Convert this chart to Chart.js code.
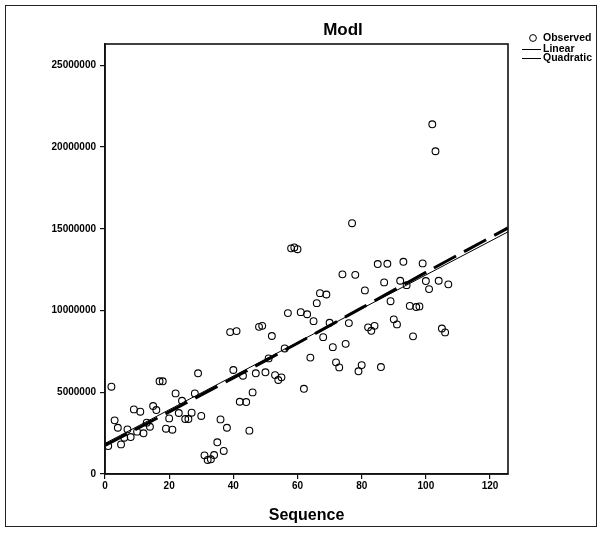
<!DOCTYPE html>
<html>
<head>
<meta charset="utf-8">
<script src="https://cdn.jsdelivr.net/npm/chart.js@4/dist/chart.umd.min.js"></script>
<style>
  html, body { margin: 0; padding: 0; background: #fff; }
  #wrap { position: relative; width: 602px; height: 533px; }
</style>
</head>
<body>
<div id="wrap"><canvas id="modlChart" width="602" height="533"></canvas></div>
<script>
// ---- datos ----
const chartTitle = 'Modl';
const xTitle = 'Sequence';
const legendNames = ['Observed', 'Linear', 'Quadratic'];

// valores observados, secuencia 1..107
const observed = [
  1710000, 5340000, 3280000, 2830000, 1810000, 2220000, 2730000, 2260000, 3950000, 2590000,
  3810000, 2490000, 3140000, 2890000, 4160000, 3910000, 5670000, 5670000, 2770000, 3400000,
  2710000, 4930000, 3730000, 4480000, 3360000, 3360000, 3750000, 4930000, 6160000, 3550000,
  1140000, 860000, 900000, 1160000, 1940000, 3340000, 1410000, 2830000, 8680000, 6360000,
  8740000, 4420000, 6010000, 4400000, 2650000, 4990000, 6160000, 9000000, 9060000, 6220000,
  7070000, 8440000, 6050000, 5750000, 5910000, 7680000, 9840000, 13800000, 13860000, 13750000,
  9900000, 5210000, 9770000, 7120000, 9350000, 10450000, 11060000, 8370000, 10980000, 9250000,
  7760000, 6830000, 6520000, 12210000, 7960000, 9230000, 15340000, 12180000, 6280000, 6660000,
  11230000, 8970000, 8760000, 9060000, 12840000, 6540000, 11720000, 12860000, 10570000, 9460000,
  9150000, 11820000, 12980000, 11550000, 10280000, 8420000, 10210000, 10250000, 12880000, 11800000,
  11310000, 21390000, 19740000, 11820000, 8900000, 8660000, 11600000
];

// recta ajustada (extremos leidos)
const linearX = [0, 125.6];
const linearY = [1870000, 14810000];

// curva cuadratica (puntos leidos)
const quadX = [0, 20, 40, 60, 80, 100, 125.6];
const quadY = [1750000, 3800000, 5880000, 8000000, 10160000, 12330000, 15050000];

const xTicks = [0, 20, 40, 60, 80, 100, 120];
const yTicks = [0, 5000000, 10000000, 15000000, 20000000, 25000000];

const FONT = 'Liberation Sans, Arial, Helvetica, sans-serif';

// ---- plugin: marco, titulo, caja del area y leyenda ----
const sketchPlugin = {
    id: 'sketch',
    beforeDraw(chart) {
        const c = chart.ctx;
        c.save();
        c.fillStyle = '#fff';
        c.fillRect(0, 0, chart.width, chart.height);
        c.restore();
    },
    afterDraw(chart) {
        const c = chart.ctx;
        const a = chart.chartArea;
        c.save();
        // marco exterior
        c.strokeStyle = '#222';
        c.lineWidth = 1;
        c.strokeRect(5.5, 5.5, 591, 521);
        // caja del grafico
        c.strokeStyle = '#111';
        c.lineWidth = 1.6;
        c.strokeRect(a.left, a.top, a.right - a.left, a.bottom - a.top);
        // titulo
        c.fillStyle = '#000';
        c.font = 'bold 17px ' + FONT;
        c.textAlign = 'center';
        c.textBaseline = 'middle';
        c.fillText(chartTitle, 343, 30);
        // leyenda
        c.font = 'bold 10.5px ' + FONT;
        c.textAlign = 'left';
        c.lineWidth = 1;
        c.strokeStyle = '#000';
        c.beginPath();
        c.arc(533, 38, 3.4, 0, Math.PI * 2);
        c.stroke();
        c.fillText(legendNames[0], 543, 38);
        c.beginPath();
        c.moveTo(522, 49.5); c.lineTo(541, 49.5);
        c.moveTo(522, 58.5); c.lineTo(541, 58.5);
        c.stroke();
        c.fillText(legendNames[1], 543, 49);
        c.fillText(legendNames[2], 543, 58);
        c.restore();
    }
};

const ctx = document.getElementById('modlChart');

new Chart(ctx, {
    type: 'scatter',
    data: {
        datasets: [
            {
                label: legendNames[0],
                data: observed.map((v, i) => ({ x: i + 1, y: v })),
                pointStyle: 'circle',
                pointRadius: 3.4,
                pointHoverRadius: 3.4,
                borderColor: '#000',
                backgroundColor: 'rgba(0,0,0,0)',
                borderWidth: 1.1,
                showLine: false
            },
            {
                label: legendNames[1],
                data: linearX.map((x, i) => ({ x: x, y: linearY[i] })),
                showLine: true,
                borderColor: '#000',
                borderWidth: 1,
                pointRadius: 0,
                fill: false
            },
            {
                label: legendNames[2],
                data: quadX.map((x, i) => ({ x: x, y: quadY[i] })),
                showLine: true,
                borderColor: '#000',
                borderWidth: 3,
                borderDash: [25, 9],
                tension: 0.3,
                pointRadius: 0,
                fill: false
            }
        ]
    },
    options: {
        responsive: false,
        animation: false,
        devicePixelRatio: 1,
        layout: { padding: { top: 44, right: 94, left: 0, bottom: 0 } },
        plugins: {
            legend: { display: false },
            title: { display: false },
            tooltip: { enabled: false }
        },
        scales: {
            x: {
                type: 'linear',
                min: 0,
                max: 125.6,
                afterFit: s => { s.height = 59; },
                afterBuildTicks: s => { s.ticks = xTicks.map(v => ({ value: v })); },
                grid: { drawOnChartArea: false, drawTicks: true, tickLength: 5, color: '#111', lineWidth: 1.2 },
                border: { display: true, color: '#111', width: 1.6 },
                ticks: {
                    color: '#000',
                    padding: 1,
                    maxRotation: 0,
                    font: { family: FONT, size: 10, weight: 'bold' }
                },
                title: {
                    display: true,
                    text: xTitle,
                    color: '#000',
                    padding: { top: 4, bottom: 8 },
                    font: { family: FONT, size: 16, weight: 'bold' }
                }
            },
            y: {
                type: 'linear',
                min: 0,
                max: 26300000,
                afterFit: s => { s.width = 105; },
                afterBuildTicks: s => { s.ticks = yTicks.map(v => ({ value: v })); },
                grid: { drawOnChartArea: false, drawTicks: true, tickLength: 5, color: '#111', lineWidth: 1.2 },
                border: { display: true, color: '#111', width: 1.6 },
                ticks: {
                    color: '#000',
                    padding: 4,
                    callback: v => String(v),
                    font: { family: FONT, size: 10, weight: 'bold' }
                }
            }
        }
    },
    plugins: [sketchPlugin]
});
</script>
</body>
</html>
